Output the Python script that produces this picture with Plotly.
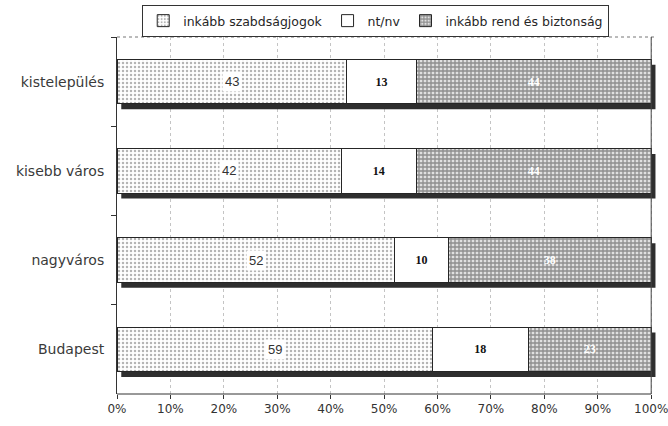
import plotly.graph_objects as go

# Settlement types, listed top to bottom
categories = ["kistelepülés", "kisebb város", "nagyváros", "Budapest"]

# Share of answers per settlement type (%)
szabadsag = [43, 42, 52, 59]
ntnv = [13, 14, 10, 18]
rend = [44, 44, 38, 23]

series_names = ["inkább szabdságjogok", "nt/nv", "inkább rend és biztonság"]
x_ticks = [0, 10, 20, 30, 40, 50, 60, 70, 80, 90, 100]
x_tick_labels = [f"{t}%" for t in x_ticks]

SANS = "Liberation Sans, Arial, sans-serif"
WIDE = "DejaVu Sans, Verdana, sans-serif"
SERIF = "Liberation Serif, Times New Roman, serif"
INK = "#262626"

SHADOW_DX = 0.8    # shadow offset along x (percentage points)
SHADOW_DY = 0.06   # shadow offset along y (category units)

fig = go.Figure()

fig.add_trace(go.Bar(
    y=categories, x=szabadsag, orientation="h", name=series_names[0],
    width=0.5,
    marker=dict(color="white", line=dict(color=INK, width=1),
                pattern=dict(shape=".", fgcolor="#6a6a6a", bgcolor="white",
                             size=4, solidity=0.3)),
    hoverinfo="x+y",
))
fig.add_trace(go.Bar(
    y=categories, x=ntnv, orientation="h", name=series_names[1],
    width=0.5,
    marker=dict(color="white", line=dict(color=INK, width=1)),
    text=[str(v) for v in ntnv], textposition="inside",
    insidetextanchor="middle", textangle=0,
    textfont=dict(family=SERIF, size=12, color="#111", weight="bold"),
))
fig.add_trace(go.Bar(
    y=categories, x=rend, orientation="h", name=series_names[2],
    width=0.5,
    marker=dict(color="#7a7a7a", line=dict(color=INK, width=1),
                pattern=dict(shape="+", fgcolor="#3c3c3c", bgcolor="#e0e0e0",
                             size=4, solidity=0.55)),
    text=[str(v) for v in rend], textposition="inside",
    insidetextanchor="middle", textangle=0,
    textfont=dict(family=SERIF, size=12, color="white", weight="bold"),
))

# Drop shadow behind each stacked bar (offset right and down)
shapes = []
for i, cat in enumerate(categories):
    total = szabadsag[i] + ntnv[i] + rend[i]
    shapes.append(dict(
        type="rect", xref="x", yref="y", layer="between",
        x0=SHADOW_DX, x1=total + SHADOW_DX,
        y0=i - 0.25 + SHADOW_DY, y1=i + 0.25 + SHADOW_DY,
        fillcolor="#2e2e2e", line=dict(width=0),
    ))
# Dotted frame line along the top of the plot area
shapes.append(dict(type="line", xref="x domain", yref="y domain",
                   x0=0, x1=1, y0=1, y1=1,
                   line=dict(color="#777", width=1, dash="dot")))
# Solid border at 100%
shapes.append(dict(type="line", xref="x", yref="y domain",
                   x0=x_ticks[-1], x1=x_ticks[-1], y0=0, y1=1,
                   line=dict(color="#444", width=1)))
# Bottom axis line spanning 0%..100%
shapes.append(dict(type="line", xref="x", yref="y domain",
                   x0=x_ticks[0], x1=x_ticks[-1], y0=0, y1=0,
                   line=dict(color="#333", width=1)))

# Value labels of the first segment, on a white patch
annotations = []
for i, cat in enumerate(categories):
    annotations.append(dict(
        x=szabadsag[i] / 2, y=cat, xref="x", yref="y", text=str(szabadsag[i]),
        showarrow=False, bgcolor="white", borderpad=2,
        font=dict(family=SANS, size=13, color="#333"),
    ))

fig.update_layout(
    width=668, height=426,
    margin=dict(l=117, r=12, t=37, b=32, autoexpand=False),
    paper_bgcolor="white", plot_bgcolor="white",
    barmode="stack", bargap=0.5,
    shapes=shapes, annotations=annotations,
    showlegend=True,
    legend=dict(orientation="h", x=0.48, xanchor="center",
                y=1.0896, yanchor="top",
                bordercolor="#333", borderwidth=1, bgcolor="white",
                font=dict(family=WIDE, size=12.5, color=INK),
                itemwidth=30, traceorder="normal",
                tracegroupgap=0),
    font=dict(family=SANS, color=INK),
)

fig.update_xaxes(
    range=[0, x_ticks[-1] + SHADOW_DX + 0.1], tickvals=x_ticks,
    ticktext=x_tick_labels, ticklabeloverflow="allow",
    showgrid=True, gridcolor="#c4c4c4", griddash="dot", gridwidth=1,
    showline=False,
    ticks="outside", ticklen=4, tickcolor="#333",
    tickfont=dict(family=WIDE, size=12, color="#333"),
    zeroline=False, fixedrange=True, automargin=False,
)
fig.update_yaxes(
    categoryorder="array", categoryarray=categories, autorange="reversed",
    showline=True, linecolor="#333", linewidth=1,
    ticks="outside", tickson="boundaries", ticklen=5, tickcolor="#333",
    ticklabelstandoff=9,
    tickfont=dict(family=WIDE, size=14, color="#3a3a3a"),
    showgrid=False, zeroline=False, fixedrange=True, automargin=False,
)

fig.write_html("out.html")
